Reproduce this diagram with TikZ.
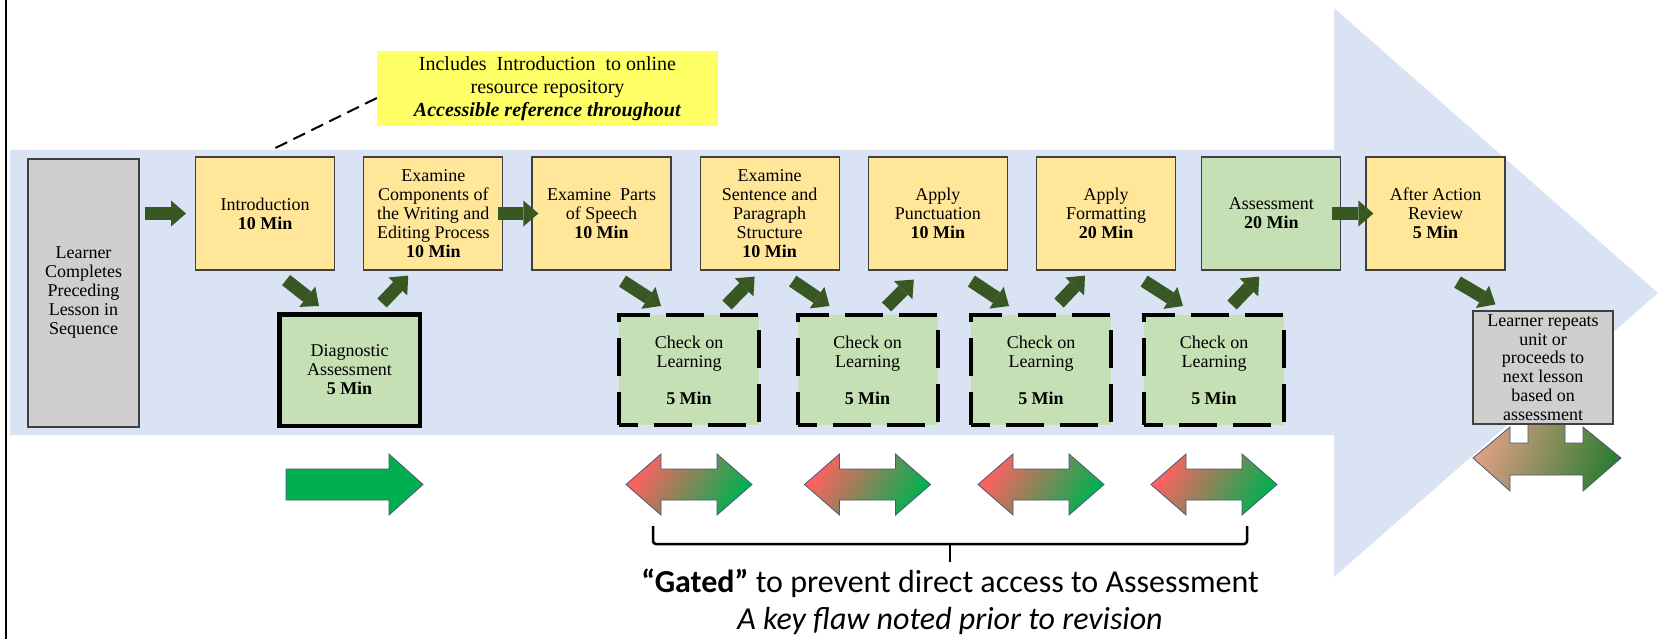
\documentclass[tikz,border=0pt]{standalone}
\usepackage{fontspec}
\setmainfont{Liberation Serif}
\newfontfamily\capfont{Carlito}
\usetikzlibrary{positioning,calc,arrows.meta}

\definecolor{bandblue}{HTML}{DAE3F3}
\definecolor{stepyellow}{HTML}{FFE699}
\definecolor{checkgreen}{HTML}{C5E0B4}
\definecolor{boxgrey}{HTML}{D0CECE}
\definecolor{arrowgreen}{HTML}{385723}
\definecolor{noteyellow}{HTML}{FFFF66}
\definecolor{goodgreen}{HTML}{00B050}
\definecolor{darkgood}{HTML}{2E7D32}
\definecolor{badred}{HTML}{FF6161}
\definecolor{salmon}{HTML}{E8A08A}
\definecolor{arrowedge}{HTML}{4A5A70}

\tikzset{
  lesson/.style={draw=black!75, line width=1.2pt, fill=stepyellow, minimum width=139pt,
    minimum height=113pt, align=center, inner sep=1pt, font=\fontsize{18}{19}\selectfont},
  testbox/.style={lesson, fill=checkgreen},
  learnerbox/.style={lesson, fill=boxgrey},
  checkbox/.style={testbox, draw=black, line width=4pt, dash pattern=on 38pt off 16pt,
    dash phase=19pt, minimum width=140pt, minimum height=110pt},
  notebox/.style={fill=noteyellow, minimum width=341pt, minimum height=75pt, align=center,
    inner sep=0pt, font=\fontsize{20}{23}\selectfont},
  leader/.style={line width=2pt, dash pattern=on 13pt off 7pt},
  blockarr/.style={draw=arrowgreen, line width=13pt,
    -{Triangle[width=26pt, length=15pt, line width=0pt]}},
  gatearr/.style={draw=arrowedge, line width=0.8pt, top color=badred, bottom color=goodgreen,
    shading angle=60},
  gatebrace/.style={line width=2.5pt, rounded corners=3pt},
  capnote/.style={align=center, inner sep=0pt, font=\capfont\fontsize{32}{37}\selectfont},
}

\begin{document}
\begin{tikzpicture}[x=1pt, y=-1pt]
\useasboundingbox (0,0) rectangle (1667,639);

% big background arrow
\fill[bandblue] (10,150) -- (1334,150) -- (1334,8) -- (1658,293) -- (1334,577)
  -- (1334,435) -- (10,435) -- cycle;
\draw[line width=2pt] (6,0) -- (6,639);

% top row
\node[learnerbox, minimum width=111pt, minimum height=268pt] (prev) at (83.5,293)
  {Learner\\Completes\\Preceding\\Lesson in\\Sequence};
\node[lesson] (intro) at (265.1,213.5) {Introduction\\\textbf{10 Min}};
\node[lesson, right=28pt of intro] (comp)
  {Examine\\Components of\\the Writing and\\Editing Process\\\textbf{10 Min}};
\node[lesson, right=28pt of comp] (parts) {Examine\ \ Parts\\of Speech\\\textbf{10 Min}};
\node[lesson, right=28pt of parts] (sent)
  {Examine\\Sentence and\\Paragraph\\Structure\\\textbf{10 Min}};
\node[lesson, right=28pt of sent] (punct) {Apply\\Punctuation\\\textbf{10 Min}};
\node[lesson, right=28pt of punct] (form) {Apply\\Formatting\\\textbf{20 Min}};
\node[testbox, right=25pt of form] (assess) {Assessment\\\textbf{20 Min}};
\node[lesson, right=24pt of assess] (aar) {After Action\\Review\\\textbf{5 Min}};

% callout
\node[notebox] (note) at (547.5,88.5)
  {Includes\ \ Introduction\ \ to online\\resource repository\\\textbf{\textit{Accessible reference throughout}}};
\draw[leader] ($(note.west)+(0,9.5)$) -- ($(intro.north)+(7.5,-7)$);

% bottom row
\node[testbox, draw=black, line width=4.5pt, minimum width=140.5pt, minimum height=111.5pt]
  (diag) at (349.5,370) {Diagnostic\\Assessment\\\textbf{5 Min}};
\node[checkbox] (chk1) at (689,370) {Check on\\Learning\\[18pt]\textbf{5 Min}};
\node[checkbox] (chk2) at (867.5,370) {Check on\\Learning\\[18pt]\textbf{5 Min}};
\node[checkbox] (chk3) at (1041,370) {Check on\\Learning\\[18pt]\textbf{5 Min}};
\node[checkbox] (chk4) at (1214,370) {Check on\\Learning\\[18pt]\textbf{5 Min}};

% flow arrows
\draw[blockarr, shorten <=5pt, shorten >=9pt] (prev.east |- intro.west) -- (intro.west);
\draw[blockarr, shorten <=-5pt, shorten >=-7pt] (comp) -- (parts);
\draw[blockarr, shorten <=-9pt, shorten >=-8pt] (assess) -- (aar);
\draw[blockarr] ($(intro.south)+(21,9.5)$) -- ($(diag.north west)+(42,-6)$);
\draw[blockarr] ($(parts.south)+(21,10.5)$) -- ($(chk1.north west)+(44,-7)$);
\draw[blockarr] ($(sent.south)+(23,10.5)$) -- ($(chk2.north west)+(34,-7)$);
\draw[blockarr] ($(punct.south)+(33.5,10.5)$) -- ($(chk3.north west)+(40,-7)$);
\draw[blockarr] ($(form.south)+(38,10.5)$) -- ($(chk4.north west)+(41,-7)$);
\draw[blockarr] ($(diag.north east)+(-40,-9)$) -- ($(comp.south west)+(45,5)$);
\draw[blockarr] ($(chk1.north east)+(-34,-8)$) -- ($(sent.south west)+(55,6)$);
\draw[blockarr] ($(chk2.north east)+(-53,-6)$) -- ($(punct.south west)+(46,9)$);
\draw[blockarr] ($(chk3.north east)+(-54,-10)$) -- ($(form.south west)+(49,5)$);
\draw[blockarr] ($(chk4.north east)+(-54,-8)$) -- ($(assess.south west)+(58,6)$);

% arrows under the band
\filldraw[draw=arrowedge, line width=0.8pt, fill=goodgreen] ($(diag.south)+(-63.5,41)$)
  -- ++(103,0) -- ++(0,-15) -- ++(34,30.5) -- ++(-34,30.5) -- ++(0,-15) -- ++(-103,0) -- cycle;
\foreach \c in {chk1,chk2,chk3,chk4}
  \shadedraw[gatearr] ($(\c.south)+(-63,57.5)$) -- ++(35,-30.5) -- ++(0,15) -- ++(56,0)
    -- ++(0,-15) -- ++(35,30.5) -- ++(-35,30.5) -- ++(0,-15) -- ++(-56,0) -- ++(0,15) -- cycle;

% bracket and note
\coordinate (bl) at ($(chk1.south)+(-36,99)$);
\coordinate (br) at ($(chk4.south)+(33,99)$);
\draw[gatebrace] (bl) -- ++(0,18) -| (br);
\coordinate (bm) at ($(bl)!.5!(br)$);
\draw[gatebrace] ($(bm)+(0,18)$) -- ++(0,18) coordinate (btip);
\node[capnote, below=7pt of btip] (gated)
  {\textbf{“Gated”} to prevent direct access to Assessment\\\textit{A key flaw noted prior to revision}};

% repeat or proceed
\shadedraw[draw=arrowedge, line width=0.8pt, left color=salmon, middle color=goodgreen,
  right color=darkgood, shading angle=70]
  (1473,458) -- (1510,427) -- (1510,443) -- (1528,443) -- (1528,400) -- (1565,400)
  -- (1565,443) -- (1583,443) -- (1583,427) -- (1621,458) -- (1583,491) -- (1583,475)
  -- (1510,475) -- (1510,491) -- cycle;
\node[learnerbox, minimum width=140pt, inner sep=0pt, font=\fontsize{18}{18.7}\selectfont]
  (retry) at (1543,367.5)
  {Learner repeats\\unit or\\proceeds to\\next lesson\\based on\\assessment};
\draw[blockarr] ($(aar.south)+(22,11.5)$) -- ($(retry.north west)+(23,-6)$);
\end{tikzpicture}
\end{document}
